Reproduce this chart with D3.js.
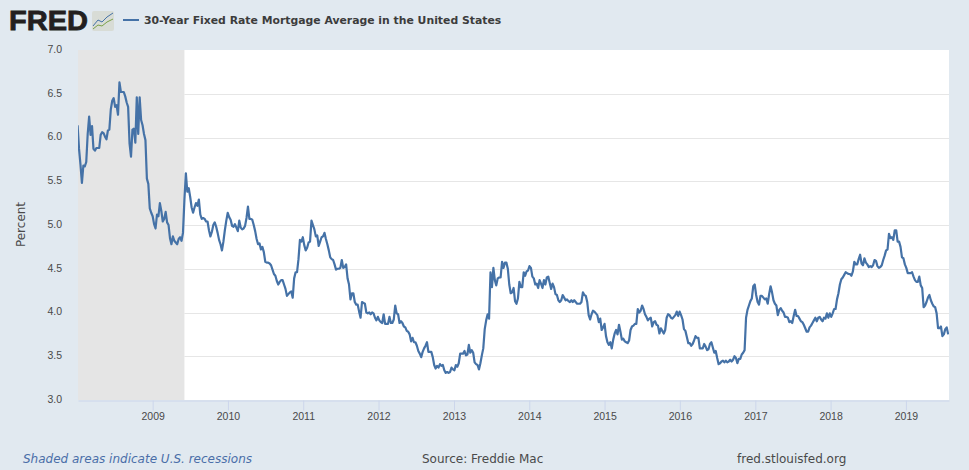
<!DOCTYPE html>
<html>
<head>
<meta charset="utf-8">
<script src="https://cdn.jsdelivr.net/npm/d3@7"></script>
<style>
html, body { margin: 0; padding: 0; background: #e1e9f0; }
svg { display: block; font-family: "DejaVu Sans", sans-serif; }
.xaxis text, .yaxis text { fill: #4a4a4a; font-size: 10.5px; }
</style>
</head>
<body>
<script>
// weekly readings, one list per year, starting at the first date in weekStarts
var weekStarts = ["2008-01-03","2009-01-08","2010-01-07","2011-01-06","2012-01-05","2013-01-03","2014-01-02","2015-01-08","2016-01-07","2017-01-05","2018-01-04","2019-01-03"];

var rates2008 = [6.14,5.87,5.69,5.48,5.68,5.67,5.72,6.04,6.24,6.03,6.13,5.87,5.85,5.88,5.88,5.88,6.03,6.06,6.05,6.01,5.98,6.08,6.09,6.32,6.42,6.45,6.35,6.37,6.26,6.63,6.52,6.52,6.52,6.47,6.40,6.35,5.93,5.78,6.09,6.10,5.94,6.46,6.04,6.46,6.20,6.14,6.04,5.97,5.53,5.47,5.19,5.14,5.10];
var rates2009 = [5.01,4.96,5.12,5.10,5.25,5.16,5.04,5.07,5.15,5.03,5.00,4.85,4.78,4.87,4.82,4.80,4.78,4.84,4.86,4.82,4.91,5.29,5.59,5.38,5.42,5.32,5.20,5.14,5.20,5.25,5.22,5.29,5.12,5.07,5.08,5.07,5.04,5.04,4.94,4.87,4.92,5.00,5.03,4.98,4.91,4.83,4.78,4.71,4.81,4.94,5.05,5.14];
var rates2010 = [5.09,5.06,4.99,4.98,5.01,4.97,4.93,5.05,4.97,4.95,4.96,4.99,5.08,5.21,5.07,5.07,5.06,5.00,4.93,4.84,4.78,4.79,4.72,4.75,4.69,4.58,4.57,4.57,4.56,4.54,4.49,4.44,4.42,4.36,4.32,4.35,4.37,4.37,4.32,4.27,4.19,4.21,4.23,4.24,4.17,4.39,4.46,4.46,4.61,4.83,4.81,4.86];
var rates2011 = [4.77,4.71,4.74,4.80,4.81,5.05,5.00,4.95,4.87,4.88,4.76,4.81,4.86,4.87,4.91,4.84,4.78,4.71,4.63,4.61,4.60,4.55,4.49,4.50,4.50,4.51,4.60,4.51,4.52,4.55,4.39,4.32,4.15,4.22,4.22,4.12,4.09,4.09,4.01,3.94,4.12,4.11,4.10,4.00,3.99,4.00,3.98,4.00,3.99,3.94,3.91,3.95];
var rates2012 = [3.91,3.89,3.88,3.98,3.87,3.87,3.87,3.95,3.88,3.88,3.92,4.08,3.99,3.98,3.88,3.90,3.88,3.84,3.83,3.79,3.78,3.75,3.67,3.71,3.66,3.66,3.62,3.56,3.53,3.49,3.55,3.59,3.62,3.66,3.55,3.55,3.55,3.49,3.40,3.36,3.39,3.37,3.41,3.39,3.40,3.34,3.31,3.32,3.31,3.32,3.37,3.35];
var rates2013 = [3.34,3.40,3.38,3.42,3.53,3.53,3.53,3.56,3.51,3.52,3.63,3.54,3.57,3.54,3.43,3.41,3.40,3.35,3.42,3.51,3.59,3.81,3.91,3.98,3.93,4.46,4.29,4.51,4.37,4.31,4.39,4.40,4.40,4.58,4.51,4.57,4.57,4.50,4.32,4.22,4.23,4.28,4.13,4.10,4.16,4.35,4.29,4.29,4.46,4.42,4.47,4.48];
var rates2014 = [4.53,4.51,4.41,4.39,4.32,4.33,4.28,4.37,4.33,4.28,4.37,4.32,4.40,4.41,4.34,4.27,4.33,4.29,4.21,4.20,4.14,4.12,4.14,4.20,4.17,4.14,4.15,4.13,4.12,4.14,4.12,4.14,4.12,4.10,4.10,4.10,4.12,4.23,4.20,4.19,4.12,3.97,3.92,3.98,4.02,4.01,3.99,3.97,3.89,3.93,3.80,3.83,3.87];
var rates2015 = [3.73,3.66,3.63,3.66,3.59,3.69,3.76,3.80,3.75,3.86,3.78,3.69,3.70,3.67,3.66,3.65,3.68,3.80,3.84,3.85,3.87,3.87,4.04,4.00,4.02,4.08,4.04,3.98,3.95,3.91,3.93,3.94,3.84,3.89,3.90,3.86,3.85,3.76,3.82,3.79,3.76,3.80,3.94,3.98,3.97,3.94,3.93,3.95,3.97,4.01,3.96,4.01];
var rates2016 = [3.97,3.92,3.81,3.79,3.72,3.65,3.65,3.62,3.64,3.68,3.73,3.71,3.71,3.59,3.59,3.59,3.64,3.61,3.57,3.58,3.64,3.66,3.60,3.54,3.56,3.48,3.41,3.42,3.44,3.45,3.43,3.45,3.43,3.44,3.46,3.44,3.46,3.50,3.48,3.42,3.47,3.47,3.52,3.54,3.57,3.94,4.03,4.08,4.13,4.16,4.30,4.32];
var rates2017 = [4.20,4.12,4.09,4.19,4.19,4.17,4.15,4.16,4.10,4.21,4.30,4.23,4.14,4.10,4.08,3.97,4.03,4.05,4.02,4.00,3.95,3.95,3.94,3.89,3.90,3.88,3.96,4.03,3.96,3.96,3.93,3.90,3.89,3.86,3.82,3.78,3.78,3.83,3.85,3.88,3.91,3.94,3.90,3.94,3.95,3.92,3.90,3.94,3.93,3.99,3.94,3.99];
var rates2018 = [3.95,3.99,4.04,4.04,4.15,4.22,4.32,4.38,4.40,4.43,4.46,4.45,4.44,4.44,4.42,4.47,4.58,4.55,4.55,4.61,4.66,4.56,4.54,4.62,4.57,4.55,4.52,4.53,4.52,4.54,4.60,4.59,4.53,4.51,4.52,4.54,4.60,4.65,4.71,4.72,4.90,4.85,4.86,4.83,4.94,4.94,4.81,4.81,4.75,4.63,4.62,4.55];
var rates2019 = [4.51,4.45,4.45,4.45,4.46,4.41,4.37,4.35,4.35,4.41,4.31,4.28,4.06,4.08,4.12,4.17,4.20,4.14,4.10,4.07,4.06,3.99,3.82,3.82,3.84,3.73,3.75,3.81,3.83,3.75];
var allRates = [rates2008,rates2009,rates2010,rates2011,rates2012,rates2013,rates2014,rates2015,rates2016,rates2017,rates2018,rates2019];

var yTicks = [3.0,3.5,4.0,4.5,5.0,5.5,6.0,6.5,7.0];
var xTickYears = [2009,2010,2011,2012,2013,2014,2015,2016,2017,2018,2019];
var axisStart = "2008-01-05";
var axisEnd = "2019-07-29";
var recessionEnd = "2009-06-04";

var titleText = "30-Year Fixed Rate Mortgage Average in the United States";

var width = 969, height = 470;
var left = 78, right = 949, top_ = 50, bottom = 400;

var parseDay = d3.timeParse("%Y-%m-%d");

var data = [];
allRates.forEach(function(list, y){
  var first = parseDay(weekStarts[y]);
  list.forEach(function(v, i){
    data.push({date: d3.timeDay.offset(first, i*7), value: v});
  });
});

var svg = d3.select("body").append("svg").attr("width", width).attr("height", height);

var x = d3.scaleTime().domain([parseDay(axisStart), parseDay(axisEnd)]).range([left, right]);
var y = d3.scaleLinear().domain([3, 7]).range([bottom, top_]);

svg.append("clipPath").attr("id", "plotclip").append("rect")
  .attr("x", left).attr("y", top_).attr("width", right-left).attr("height", bottom-top_);

// plot background
svg.append("rect").attr("x", left).attr("y", top_).attr("width", right-left).attr("height", bottom-top_).attr("fill", "#fff");

// recession band
svg.append("rect")
  .attr("x", left)
  .attr("y", top_)
  .attr("width", x(parseDay(recessionEnd))-left)
  .attr("height", bottom-top_)
  .attr("fill", "#e5e5e5");

// grid lines
svg.append("g").selectAll("line").data(yTicks.slice(1, -1)).enter().append("line")
  .attr("x1", x(parseDay(recessionEnd))).attr("x2", right)
  .attr("y1", function(d){ return Math.round(y(d))+0.5 })
  .attr("y2", function(d){ return Math.round(y(d))+0.5 })
  .attr("stroke", "#e6e6e6");

// y axis, labels only
var yAxis = d3.axisLeft(y).tickValues(yTicks).tickFormat(d3.format(".1f")).tickSize(0).tickPadding(16);
var yg = svg.append("g").attr("class", "yaxis").attr("transform", "translate("+left+",-1)").call(yAxis);
yg.select(".domain").remove();

// x axis
var xAxis = d3.axisBottom(x)
  .tickValues(xTickYears.map(function(d){ return new Date(d, 0, 1) }))
  .tickFormat(d3.timeFormat("%Y")).tickSizeOuter(0).tickSizeInner(10).tickPadding(2);
var xg = svg.append("g").attr("class", "xaxis").attr("transform", "translate(0,"+(bottom+0.5)+")").call(xAxis);
xg.select(".domain").attr("stroke", "#ccd6eb");
xg.selectAll(".tick line").attr("stroke", "#ccd6eb");

// series line
var line = d3.line().x(function(d){ return x(d.date) }).y(function(d){ return y(d.value) });
svg.append("path").datum(data).attr("d", line).attr("clip-path", "url(#plotclip)")
  .attr("fill", "none").attr("stroke", "#4572a7").attr("stroke-width", 2.2).attr("stroke-linejoin", "round");

// y axis title
svg.append("text").attr("transform", "translate(25,224.5) rotate(-90)").attr("text-anchor", "middle")
  .attr("font-size", 12).attr("fill", "#4a4a4a").text("Percent");

// FRED logo
svg.append("text").attr("x", 9).attr("y", 30).attr("font-family", "Liberation Sans").attr("font-weight", "bold")
  .attr("font-size", 27).attr("textLength", 79).attr("lengthAdjust", "spacingAndGlyphs")
  .attr("stroke", "#231f20").attr("stroke-width", 0.8).attr("fill", "#231f20").text("FRED");
var logo = svg.append("g").attr("transform", "translate(92,11)");
logo.append("rect").attr("width", 22).attr("height", 20).attr("rx", 2).attr("fill", "#d8dcd6");
logo.append("path").attr("d", "M1,15 L6,9 L10,11 L15,6 L21,2").attr("fill", "none").attr("stroke", "#4572a7").attr("stroke-width", 1);
logo.append("path").attr("d", "M1,18 L6,14 L10,15 L15,11 L21,8").attr("fill", "none").attr("stroke", "#7ba14a").attr("stroke-width", 1);

// legend
svg.append("line").attr("x1", 123).attr("x2", 139).attr("y1", 20).attr("y2", 20).attr("stroke", "#4572a7").attr("stroke-width", 2);
svg.append("text").attr("x", 144).attr("y", 24).attr("font-weight", "bold").attr("font-size", 10.85).attr("fill", "#3c3c3c").text(titleText);

// footer
svg.append("text").attr("x", 23).attr("y", 463).attr("font-style", "italic").attr("font-size", 12).attr("fill", "#4a6ea8").text("Shaded areas indicate U.S. recessions");
svg.append("text").attr("x", 422).attr("y", 463).attr("font-size", 12).attr("fill", "#4a4a4a").text("Source: Freddie Mac");
svg.append("text").attr("x", 737).attr("y", 463).attr("font-size", 12).attr("fill", "#4a4a4a").text("fred.stlouisfed.org");
</script>
</body>
</html>
